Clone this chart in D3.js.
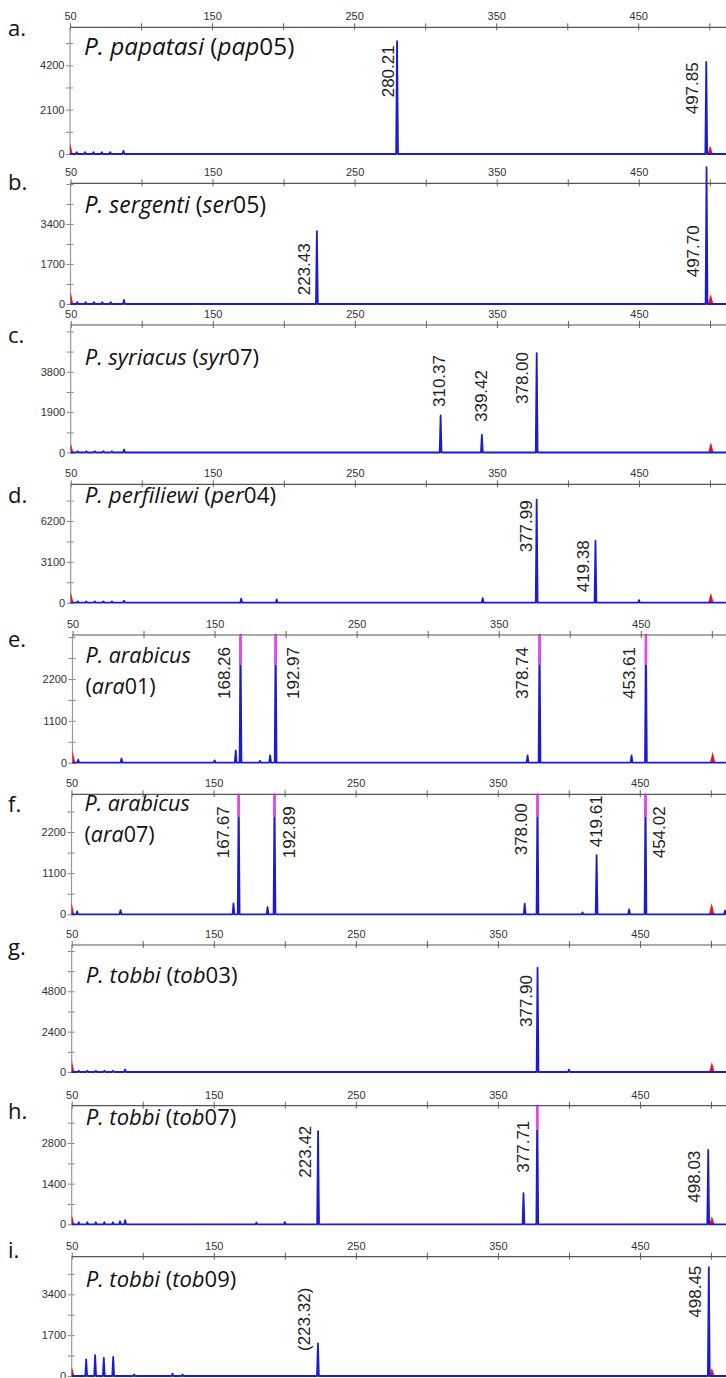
<!DOCTYPE html>
<html>
<head>
<meta charset="utf-8">
<script src="https://cdn.jsdelivr.net/npm/d3@7"></script>
<style>
  body { margin: 0; background: #fff; }
  svg { display: block; }
</style>
</head>
<body>
<svg id="chart"></svg>
<script>
(() => {

    const WIDTH = 726;
    const HEIGHT = 1378;
    const BP_PX = 1.4207;
    const PEAK_HALF = 0.65;
    const RED_HALF = 1.9;
    const BLUE = "#1c1ccf";
    const RED = "#e8141c";
    const MAGENTA = "#ee44ee";

    // ---- data ----
    const PANEL_IDS = ["a.", "b.", "c.", "d.", "e.", "f.", "g.", "h.", "i."];

    // [species, code letters, code digits]
    const TITLES = [
        ["P. papatasi", "pap", "05"],
        ["P. sergenti", "ser", "05"],
        ["P. syriacus", "syr", "07"],
        ["P. perfiliewi", "per", "04"],
        ["P. arabicus", "ara", "01"],
        ["P. arabicus", "ara", "07"],
        ["P. tobbi", "tob", "03"],
        ["P. tobbi", "tob", "07"],
        ["P. tobbi", "tob", "09"]
    ];

    const X_TICKS = [50, 100, 150, 200, 250, 300, 350, 400, 450, 500];
    const X_LABELS = [50, 150, 250, 350, 450];

    const Y_STEPS = [2100, 1700, 1900, 3100, 1100, 1100, 2400, 1400, 1700];
    const Y_MAX = [6000, 5130, 6000, 8985, 3357, 3208, 7554, 4085, 4965];

    // off-scale (saturated) level where the magenta tip starts
    const SAT_LEVEL = [null, null, null, null, 2570, 2600, null, 3250, null];

    // blue peaks: [size bp, height rfu]; null height = off scale
    const PEAKS_A = [[54.7, 90], [60.6, 90], [66.5, 90], [72.4, 90], [78.3, 90], [87.6, 150],
        [280.21, 5350], [497.85, 4360]];
    const PEAKS_B = [[54.7, 80], [60.6, 80], [66.5, 80], [72.4, 80], [78.3, 80], [87.6, 170],
        [223.43, 3100], [497.70, 5820]];
    const PEAKS_C = [[55, 60], [61, 60], [67, 60], [73, 60], [79, 60], [87.6, 140],
        [310.37, 1743], [339.42, 833], [378.00, 4680]];
    const PEAKS_D = [[55, 100], [61, 100], [67, 100], [73, 100], [79, 100], [87.6, 150],
        [170, 300], [195, 250], [340, 350], [450, 200], [377.99, 7826], [419.38, 4700]];
    const PEAKS_E = [[54, 80], [84.5, 110], [150, 60], [164.9, 320], [168.26, null], [182, 50],
        [189.1, 190], [192.97, null], [370.3, 190], [378.74, null], [443.5, 190], [453.61, null]];
    const PEAKS_F = [[54, 80], [84.5, 110], [164, 290], [167.67, null], [188, 190], [192.89, null],
        [369, 285], [378.00, null], [409.7, 50], [419.61, 1583], [442.5, 130], [454.02, null], [510, 100]];
    const PEAKS_G = [[55, 70], [61, 70], [67, 70], [73, 70], [79, 70], [87.6, 150],
        [377.90, 6200], [400, 150]];
    const PEAKS_H = [[55, 70], [61, 70], [67, 70], [73, 70], [79, 70], [84, 100], [87.6, 140],
        [180, 60], [200, 80], [223.42, 3210], [368, 1070], [377.71, null], [498.03, 2560]];
    const PEAKS_I = [[60.2, 690], [66.5, 865], [72.6, 755], [79.2, 795], [94, 60], [121, 100],
        [128, 60], [223.32, 1360], [498.45, 4530]];
    const PEAKS = [PEAKS_A, PEAKS_B, PEAKS_C, PEAKS_D, PEAKS_E, PEAKS_F, PEAKS_G, PEAKS_H, PEAKS_I];

    // red size-standard peaks
    const RED_PEAKS = [
        [[50, 520], [500.6, 400]],
        [[50, 540], [500.6, 420]],
        [[50, 450], [500.6, 500]],
        [[50, 850], [500.6, 750]],
        [[50, 330], [500.6, 290]],
        [[50, 320], [500.6, 300]],
        [[50, 700], [500.6, 600]],
        [[50, 340], [500.6, 280]],
        [[50, 410], [500.6, 330]]
    ];

    // peak size labels: [size bp, text]
    const LABELS = [
        [[280.21, "280.21"], [497.85, "497.85"]],
        [[223.43, "223.43"], [497.70, "497.70"]],
        [[310.37, "310.37"], [339.42, "339.42"], [378.00, "378.00"]],
        [[377.99, "377.99"], [419.38, "419.38"]],
        [[168.26, "168.26"], [192.97, "192.97"], [378.74, "378.74"], [453.61, "453.61"]],
        [[167.67, "167.67"], [192.89, "192.89"], [378.00, "378.00"], [419.61, "419.61"], [454.02, "454.02"]],
        [[377.90, "377.90"]],
        [[223.42, "223.42"], [377.71, "377.71"], [498.03, "498.03"]],
        [[223.32, "(223.32)"], [498.45, "498.45"]]
    ];

    // ---- layout ----
    const LAYOUT = [
        { x0: 70.0, axisY: 27.3, baseY: 154.0, letterY: 36, titleY: 55, titleSize: 24.3 },
        { x0: 70.5, axisY: 183.3, baseY: 304.0, letterY: 190, titleY: 213, titleSize: 23 },
        { x0: 70.7, axisY: 325.0, baseY: 452.5, letterY: 343, titleY: 365, titleSize: 22 },
        { x0: 70.7, axisY: 484.3, baseY: 602.7, letterY: 503, titleY: 503, titleSize: 22.4 },
        { x0: 72.5, axisY: 635.0, baseY: 762.7, letterY: 647, titleY: 663, title2Y: 694, titleSize: 21.5 },
        { x0: 71.5, axisY: 794.3, baseY: 914.3, letterY: 812, titleY: 811, title2Y: 842, titleSize: 21.5 },
        { x0: 71.7, axisY: 945.0, baseY: 1072.0, letterY: 955, titleY: 983, titleSize: 22.2 },
        { x0: 71.7, axisY: 1105.7, baseY: 1224.3, letterY: 1119, titleY: 1125, titleSize: 22 },
        { x0: 71.7, axisY: 1256.7, baseY: 1376.0, letterY: 1258, titleY: 1287, titleSize: 22 }
    ];

    // label offsets: [dx px from peak, top px below axis]
    const LABEL_POS = [
        [[-9, 18], [-14, 35]],
        [[-13, 60], [-14, 42]],
        [[-2, 30], [-1, 45], [-15, 27]],
        [[-11, 16], [-12, 56]],
        [[-16, 12], [17, 12], [-17, 12], [-17, 12]],
        [[-16, 12], [15, 12], [-16, 9], [-1, 1], [14, 12]],
        [[-12, 30]],
        [[-13, 20], [-14, 15], [-14, 45]],
        [[-14, 31], [-14, 9]]
    ];

    const svg = d3.select("#chart")
        .attr("width", WIDTH)
        .attr("height", HEIGHT)
        .attr("viewBox", `0 0 ${WIDTH} ${HEIGHT}`);

    const defs = svg.append("defs");

    function drawPanel(i) {
        const L = LAYOUT[i];
        const yMax = Y_MAX[i];
        const step = Y_STEPS[i];

        const x = d3.scaleLinear()
            .domain([50, 500])
            .range([L.x0, L.x0 + 450 * BP_PX]);
        const y = d3.scaleLinear()
            .domain([0, yMax])
            .range([L.baseY, L.axisY]);

        const g = svg.append("g").attr("class", "panel");

        defs.append("clipPath")
            .attr("id", `clip-${i}`)
            .append("rect")
            .attr("x", L.x0)
            .attr("y", L.axisY - 30)
            .attr("width", WIDTH - L.x0)
            .attr("height", L.baseY - L.axisY + 33);

        // top axis
        const xAxis = d3.axisTop(x)
            .tickValues(X_TICKS)
            .tickFormat(d => X_LABELS.includes(d) ? d : "")
            .tickSize(4)
            .tickPadding(3);
        const xg = g.append("g")
            .attr("transform", `translate(0,${L.axisY})`)
            .call(xAxis);
        xg.select(".domain").remove();
        xg.selectAll(".tick line").attr("y1", 3).attr("stroke", "#666");
        xg.selectAll(".tick text")
            .attr("fill", "#333")
            .style("font", "11px 'Liberation Sans', Arial, sans-serif");
        xg.append("line")
            .attr("x1", L.x0).attr("x2", WIDTH)
            .attr("stroke", "#555").attr("stroke-width", 1.2);

        // left axis: labels only at 0, one and two steps
        const yTicks = d3.range(0, yMax, step / 2);
        const yAxis = d3.axisLeft(y)
            .tickValues(yTicks)
            .tickFormat(d => (d % step === 0 && d <= 2 * step) ? d : "")
            .tickSize(4)
            .tickPadding(1.5);
        const yg = g.append("g")
            .attr("transform", `translate(${L.x0},0)`)
            .call(yAxis);
        yg.select(".domain").remove();
        yg.selectAll(".tick line").attr("x1", 3).attr("stroke", "#888");
        yg.selectAll(".tick text")
            .attr("fill", "#333")
            .style("font", "11px 'Liberation Sans', Arial, sans-serif");
        yg.append("line")
            .attr("y1", L.baseY).attr("y2", L.axisY)
            .attr("stroke", "#999").attr("stroke-width", 1.2);

        const plot = g.append("g").attr("clip-path", `url(#clip-${i})`);

        // red size-standard peaks
        plot.selectAll("path.red")
            .data(RED_PEAKS[i])
            .enter()
            .append("path")
            .attr("class", "red")
            .attr("fill", RED)
            .attr("d", d => d3.line()([
                [x(d[0] - RED_HALF), y(0)],
                [x(d[0]), y(d[1])],
                [x(d[0] + RED_HALF), y(0)]
            ]) + "Z");

        // blue trace
        const pts = [[48, 0]];
        PEAKS[i].slice().sort((a, b) => a[0] - b[0]).forEach(p => {
            const h = p[1] === null ? yMax : p[1];
            pts.push([p[0] - PEAK_HALF, 0], [p[0], h], [p[0] + PEAK_HALF, 0]);
        });
        pts.push([520, 0]);

        const line = d3.line()
            .x(d => x(d[0]))
            .y(d => y(d[1]));

        plot.append("path")
            .attr("d", line(pts))
            .attr("fill", BLUE)
            .attr("stroke", BLUE)
            .attr("stroke-width", 1.8)
            .attr("stroke-linejoin", "round");

        // magenta tips of off-scale peaks
        if (SAT_LEVEL[i] !== null) {
            plot.selectAll("line.off")
                .data(PEAKS[i].filter(p => p[1] === null))
                .enter()
                .append("line")
                .attr("class", "off")
                .attr("x1", d => x(d[0])).attr("x2", d => x(d[0]))
                .attr("y1", y(SAT_LEVEL[i])).attr("y2", y(yMax))
                .attr("stroke", MAGENTA)
                .attr("stroke-width", 2.6);
        }

        // peak labels
        g.selectAll("text.peak")
            .data(LABELS[i])
            .enter()
            .append("text")
            .attr("class", "peak")
            .attr("transform", (d, k) => {
                const pos = LABEL_POS[i][k];
                return `translate(${x(d[0]) + pos[0]},${L.axisY + pos[1]}) rotate(-90)`;
            })
            .attr("dy", "0.35em")
            .attr("text-anchor", "end")
            .attr("fill", "#222")
            .style("font", "17px 'Liberation Sans', Arial, sans-serif")
            .text(d => d[1]);

        // panel letter
        g.append("text")
            .attr("x", 8)
            .attr("y", L.letterY)
            .attr("fill", "#111")
            .style("font", "22px 'Open Sans', sans-serif")
            .text(PANEL_IDS[i]);

        // title
        const t = TITLES[i];
        const titleFont = `${L.titleSize}px 'Open Sans', sans-serif`;
        if (L.title2Y) {
            g.append("text")
                .attr("x", L.x0 + 13).attr("y", L.titleY)
                .attr("fill", "#111")
                .style("font", titleFont).style("font-style", "italic")
                .text(t[0]);
            const t2 = g.append("text")
                .attr("x", L.x0 + 13).attr("y", L.title2Y)
                .attr("fill", "#111")
                .style("font", titleFont);
            t2.append("tspan").text("(");
            t2.append("tspan").style("font-style", "italic").text(t[1]);
            t2.append("tspan").text(t[2] + ")");
        } else {
            const tt = g.append("text")
                .attr("x", L.x0 + 14).attr("y", L.titleY)
                .attr("fill", "#111")
                .style("font", titleFont);
            tt.append("tspan").style("font-style", "italic").text(t[0]);
            tt.append("tspan").text(" (");
            tt.append("tspan").style("font-style", "italic").text(t[1]);
            tt.append("tspan").text(t[2] + ")");
        }
    }

    for (let i = 0; i < PANEL_IDS.length; i++) {
        drawPanel(i);
    }

})();
</script>
</body>
</html>
